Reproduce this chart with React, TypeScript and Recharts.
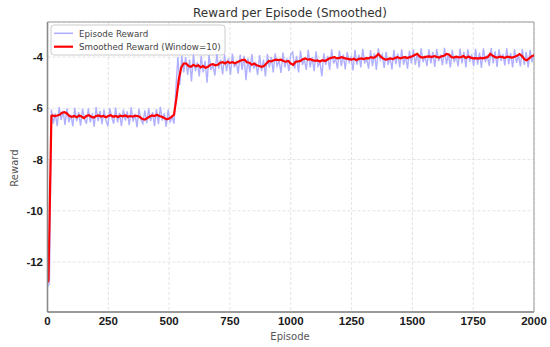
import React from 'react';
import { LineChart, Line, XAxis, YAxis, CartesianGrid, ReferenceArea } from 'recharts';

const xTicks = [0, 250, 500, 750, 1000, 1250, 1500, 1750, 2000];
const yTicks = [-12, -10, -8, -6, -4];
const yDomain = [-13.95, -2.63];

// Episode reward, read every 8 episodes (0..2000)
const rawEpisodes = Array.from({ length: 251 }, (_, i) => i * 8);
const rawReward = [
  -12.95, -12.85,
  -6.05, -6.6, -6.2, -6.7, -5.95, -6.45, -6.1, -6.65, -6.0, -6.55,
  -6.25, -6.7, -5.98, -6.5, -6.15, -6.68, -6.02, -6.4, -6.6, -6.0,
  -6.55, -6.2, -6.72, -5.95, -6.5, -6.1, -6.62, -6.05, -6.45, -6.7,
  -6.0, -6.35, -6.6, -5.97, -6.55, -6.18, -6.7, -6.05, -6.48, -6.12,
  -6.66, -5.96, -6.52, -6.22, -6.74, -6.02, -6.45, -6.6, -6.08, -6.58,
  -6.0, -6.5, -6.15, -6.7, -6.03, -6.62, -5.94, -6.48, -6.2, -6.72,
  -6.05, -6.55, -6.3,
  -6.6, -5.2, -4.0, -5.1, -3.95, -4.6,
  -4.0, -4.7, -4.1, -4.95, -3.9, -4.55, -4.2, -4.75, -3.95, -4.6,
  -4.15, -5.0, -3.92, -4.5, -4.3, -4.72, -3.88, -4.45, -4.1, -4.68,
  -3.9, -4.55, -4.05, -4.7, -3.86, -4.4, -4.2, -4.65, -3.9, -4.5,
  -3.95, -4.9, -4.05, -4.6, -3.88, -4.45, -4.25, -4.7, -3.92, -4.55,
  -4.1, -4.75, -3.87, -4.4, -4.0, -4.6, -3.85, -4.35, -4.15, -4.62,
  -3.82, -4.4, -4.05, -4.55, -3.9,
  -3.8, -4.45, -3.95, -4.6, -3.75, -4.3, -4.1, -4.5, -3.72, -4.4,
  -4.0, -4.55, -3.78, -4.35, -4.2, -4.75, -3.85, -4.3, -3.95, -4.5,
  -3.7, -4.25, -4.05, -4.45, -3.75, -4.35, -3.9, -4.48, -3.8, -4.2,
  -4.0, -4.52, -3.72, -4.3, -3.9, -4.4, -3.68, -4.25, -4.05, -4.45,
  -3.74, -4.35, -3.85, -4.5, -3.66, -4.1, -3.9, -4.42, -3.8, -4.3,
  -4.0, -4.48, -3.72, -4.28, -3.86, -4.4, -3.7, -4.3, -3.95, -4.45,
  -3.76, -4.25,
  -3.7, -4.3, -3.85, -4.4, -3.66, -4.2, -3.95, -4.35, -3.7, -4.25,
  -3.8, -4.38, -3.68, -4.15, -3.9, -4.32, -3.64, -4.28, -3.85, -4.4,
  -3.72, -4.2, -3.95, -4.36, -3.67, -4.25, -3.8, -4.4, -3.7, -4.18,
  -3.9, -4.35, -3.68, -4.3, -3.82, -4.42, -3.66, -4.2, -3.92, -4.34,
  -3.65, -4.25, -3.78, -4.38, -3.7, -4.15, -3.88, -4.32, -3.66, -4.28,
  -3.84, -4.4, -3.7, -4.22, -3.92, -4.36, -3.68, -4.3, -3.8, -4.4,
  -3.72, -4.2, -3.85,
];

// Smoothed reward (window = 10)
const smoothEpisodes = [0, 4, 16, ...Array.from({ length: 199 }, (_, i) => 20 + i * 10)];
const smoothReward = [
  -12.8, -12.7, -6.3,
  -6.28, -6.3, -6.28, -6.25,
  -6.17, -6.15, -6.2,
  -6.3, -6.33, -6.3, -6.35, -6.28, -6.32, -6.38, -6.3, -6.27, -6.33, -6.36, -6.3,
  -6.28, -6.32, -6.3, -6.35, -6.3, -6.27, -6.33, -6.3, -6.34, -6.29, -6.31, -6.28, -6.33, -6.3, -6.32, -6.29, -6.3, -6.34,
  -6.42, -6.44, -6.38,
  -6.32, -6.28, -6.3, -6.25, -6.3, -6.33,
  -6.38, -6.43, -6.4, -6.33,
  -6.25, -5.6, -4.85, -4.4, -4.25,
  -4.25, -4.35, -4.38, -4.3, -4.36, -4.32, -4.4, -4.35, -4.42, -4.38, -4.3, -4.28, -4.32, -4.3,
  -4.22, -4.2, -4.25, -4.18, -4.22, -4.2, -4.24, -4.2, -4.15,
  -4.12, -4.1, -4.2, -4.22, -4.3, -4.25, -4.32, -4.35, -4.38, -4.35, -4.25,
  -4.15, -4.17, -4.12, -4.1, -4.12, -4.1, -4.15, -4.18, -4.15,
  -4.25, -4.3, -4.18, -4.17, -4.15, -4.08, -4.05, -4.1, -4.08, -4.12,
  -4.15, -4.13, -4.17, -4.12, -4.15, -4.1,
  -4.05, -4.02, -4.0, -4.05, -4.03, -4.0, -4.04, -4.06,
  -4.08, -4.1, -4.06, -4.12, -4.07, -4.05, -4.08, -4.04, -4.05,
  -4.0, -4.03, -3.98, -3.88, -3.98, -4.06, -4.1, -4.08, -4.05, -4.08,
  -4.03, -4.0, -4.05, -4.02, -4.0, -4.04, -4.0, -3.97,
  -3.92, -3.87, -3.98, -4.02, -4.0, -3.98,
  -3.97, -4.0, -3.96, -3.99, -4.02, -3.97, -3.95, -3.88,
  -3.9, -4.0, -4.02, -3.98, -4.01, -4.0, -3.96, -4.03, -3.98, -4.02,
  -4.05, -4.04, -4.06, -4.03, -4.05, -4.02, -4.0,
  -3.87, -3.95, -4.0, -4.02, -3.98, -4.0, -4.03, -3.98, -4.0, -4.02, -3.99, -3.95,
  -3.88, -3.95, -4.08, -4.12, -4.05, -3.97, -3.93,
];

const rawData = rawEpisodes.map((e, i) => ({ episode: e, reward: rawReward[i] }));
const smoothData = smoothEpisodes.map((e, i) => ({ episode: e, reward: smoothReward[i] }));

const sans = '"DejaVu Sans", Verdana, sans-serif';
const tickFont = { fontFamily: '"Liberation Sans", Arial, sans-serif', fontSize: 11.5, fontWeight: 700, fill: '#1a1a1a' };

export default function App() {
  return (
    <div style={{ position: 'absolute', left: 0, top: 0, width: 550, height: 347, background: '#fff' }}>
      <LineChart width={550} height={347} margin={{ top: 22, right: 16, bottom: 5, left: 0 }}>
        <CartesianGrid stroke="#dcdcdc" strokeDasharray="3 2" strokeWidth={0.8} />
        <XAxis
          dataKey="episode"
          type="number"
          domain={[0, 2000]}
          ticks={xTicks}
          allowDataOverflow
          height={30}
          tickLine={false}
          tickSize={0}
          tickMargin={4.5}
          tick={tickFont}
          axisLine={{ stroke: '#8a8a8a', strokeWidth: 1.6 }}
        />
        <YAxis
          type="number"
          domain={yDomain}
          ticks={yTicks}
          allowDataOverflow
          width={47.5}
          tickLine={false}
          tickSize={0}
          tickMargin={4.5}
          tick={tickFont}
          axisLine={{ stroke: '#8a8a8a', strokeWidth: 1.6 }}
        />
        <ReferenceArea x1={0} x2={2000} y1={yDomain[0]} y2={yDomain[1]} fill="none" stroke="#9a9a9a" strokeWidth={1} />
        <Line data={rawData} dataKey="reward" type="linear" stroke="#b0b0ff" strokeWidth={1.4} dot={false} isAnimationActive={false} />
        <Line data={smoothData} dataKey="reward" type="linear" stroke="#ff0000" strokeWidth={2.2} dot={false} isAnimationActive={false} />
        <text x={290} y={17} textAnchor="middle" fontFamily={sans} fontSize={12} fill="#333">Reward per Episode (Smoothed)</text>
        <text x={290} y={340} textAnchor="middle" fontFamily={sans} fontSize={10} fill="#555">Episode</text>
        <text x={17.5} y={168} textAnchor="middle" fontFamily={sans} fontSize={10} fill="#555" transform="rotate(-90 17.5 168)">Reward</text>
        <g>
          <rect x={51} y={25} width={174} height={30} rx={3} fill="#ffffff" fillOpacity={0.85} stroke="#cccccc" strokeWidth={1} />
          <line x1={54} y1={33.3} x2={73} y2={33.3} stroke="#b0b0ff" strokeWidth={1.6} />
          <line x1={54} y1={46.7} x2={73} y2={46.7} stroke="#ff0000" strokeWidth={2.2} />
          <text x={79} y={36.5} fontFamily={sans} fontSize={8.7} fill="#444">Episode Reward</text>
          <text x={79} y={50} fontFamily={sans} fontSize={8.7} fill="#444">Smoothed Reward (Window=10)</text>
        </g>
      </LineChart>
    </div>
  );
}
